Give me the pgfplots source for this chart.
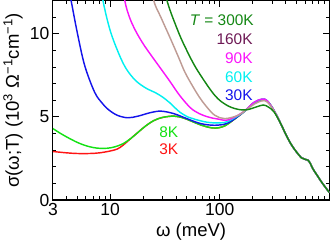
\documentclass[border=0pt]{standalone}
\usepackage{fontspec}
\setmainfont{Liberation Sans}
\usepackage{pgfplots}
\pgfplotsset{compat=1.18}
\definecolor{cRed}{RGB}{255,20,20}
\definecolor{cLime}{RGB}{20,225,20}
\definecolor{cBlue}{RGB}{20,20,235}
\definecolor{cCyan}{RGB}{0,240,240}
\definecolor{cMag}{RGB}{250,20,250}
\definecolor{cBrown}{RGB}{190,155,148}
\definecolor{cDGreen}{RGB}{20,135,20}
\definecolor{cPurp}{RGB}{110,25,85}
\begin{document}
\begin{tikzpicture}
\begin{axis}[
 scale only axis, width=269pt, height=194pt,
 xmode=log, xmin=3, xmax=1000, ymin=0, ymax=12,
 xtick={3,10,100}, xticklabels={3,10,100},
 minor xtick={4,5,6,7,8,9,20,30,40,50,60,70,80,90,200,300,400,500,600,700,800,900},
 ytick={0,5,10}, yticklabels={0,5,10},
 minor ytick={1,2,3,4,6,7,8,9,11},
 tick align=inside, major tick length=6pt, minor tick length=3.5pt,
 axis line style={line width=1.2pt},
 every tick/.style={line width=1pt, black},
 ticklabel style={font=\fontsize{17}{17}\selectfont},
 /pgf/number format/assume math mode=true,
 xlabel={ω (meV)},
 ylabel={σ(ω;T) (10\textsuperscript{3} Ω\textsuperscript{−1}cm\textsuperscript{−1})},
 label style={font=\fontsize{18}{18}\selectfont},
 clip=true,
 every axis plot/.append style={line width=1.4pt, smooth, tension=0.55},
]
% 3K
\addplot[cRed] coordinates {(3,2.92) (4,2.84) (5,2.8) (6.5,2.8) (8,2.84) (10,2.95) (11.6,3.07) (13,3.28) (15.4,3.7) (18,4.08) (21,4.45) (25,4.78) (30,4.97) (38,5.05) (46,4.95) (55,4.75) (67,4.52) (80,4.37) (92,4.33) (105,4.4) (120,4.6) (164,5.28) (204,5.83) (243,6.03) (271,5.96) (313,5.38) (361,4.58) (400,3.95) (449,3.34) (500,2.9) (556,2.54) (600,2.45) (637,2.4) (670,2.2) (710,1.86) (780,1.45) (855,1.05) (1000,0.45)};
% 8K
\addplot[cLime] coordinates {(3,4.3) (3.5,4.02) (4,3.8) (5,3.47) (6,3.27) (7,3.16) (8.1,3.11) (9.5,3.12) (11,3.2) (13,3.38) (15.4,3.7) (18,4.08) (21,4.45) (25,4.78) (30,4.97) (38,5.05) (46,4.95) (55,4.75) (67,4.52) (80,4.37) (92,4.33) (105,4.4) (120,4.6) (164,5.28) (204,5.83) (243,6.03) (271,5.96) (313,5.38) (361,4.58) (400,3.95) (449,3.34) (500,2.9) (556,2.54) (600,2.45) (637,2.4) (670,2.2) (710,1.86) (780,1.45) (855,1.05) (1000,0.45)};
% 30K
\addplot[cBlue] coordinates {(4.0,13.3) (4.4,12) (5,10.1) (5.85,8.1) (7.2,6.5) (8.4,5.85) (9.6,5.45) (11.6,5.1) (14.5,4.95) (18,5.05) (23,5.25) (29,5.35) (38,5.2) (50,4.9) (67,4.6) (90,4.5) (119,4.64) (164,5.28) (204,5.85) (243,6.06) (271,5.97) (313,5.38) (361,4.58) (400,3.95) (449,3.34) (500,2.9) (556,2.54) (600,2.45) (637,2.4) (670,2.2) (710,1.86) (780,1.45) (855,1.05) (1000,0.45)};
% 60K
\addplot[cCyan] coordinates {(7.8,14) (8.6,12) (10,10.2) (12,8.8) (14,7.9) (17,7.2) (21,6.75) (26,6.45) (30,6.2) (35,5.85) (43,5.3) (52,4.98) (60,4.85) (77,4.68) (100,4.64) (120,4.75) (164,5.28) (204,5.86) (243,6.07) (271,5.97) (313,5.38) (361,4.58) (400,3.95) (449,3.34) (500,2.9) (556,2.54) (600,2.45) (637,2.4) (670,2.2) (710,1.86) (780,1.45) (855,1.05) (1000,0.45)};
% 90K
\addplot[cMag] coordinates {(12.3,14) (13.6,12) (15,11) (17,10.2) (20,9.4) (24,8.65) (29,7.9) (35,7.15) (43,6.3) (54,5.55) (65,5.2) (80,4.98) (95,4.88) (119,4.82) (164,5.3) (204,5.87) (243,6.08) (271,5.97) (313,5.38) (361,4.58) (400,3.95) (449,3.34) (500,2.9) (556,2.54) (600,2.45) (637,2.4) (670,2.2) (710,1.86) (780,1.45) (855,1.05) (1000,0.45)};
% 160K
\addplot[cBrown] coordinates {(22,14) (25,12) (29,11.0) (35,9.8) (42,8.6) (48,7.7) (56,6.9) (65,6.2) (75,5.65) (90,5.1) (111,4.9) (147,5.1) (180,5.5) (210,5.8) (243,5.97) (271,5.9) (313,5.36) (361,4.58) (400,3.95) (449,3.34) (500,2.9) (556,2.54) (600,2.45) (637,2.4) (670,2.2) (710,1.86) (780,1.45) (855,1.05) (1000,0.45)};
% 300K
\addplot[cDGreen] coordinates {(29,14) (33,12) (42,10.1) (50,9.0) (60,8.0) (77,6.9) (90,6.3) (102,5.95) (120,5.65) (138,5.5) (160,5.42) (183,5.45) (215,5.6) (250,5.72) (280,5.58) (313,5.3) (361,4.58) (400,3.95) (449,3.34) (500,2.9) (556,2.54) (600,2.45) (637,2.4) (670,2.2) (710,1.86) (780,1.45) (855,1.05) (1000,0.45)};
\begin{scope}[every node/.style={anchor=east, inner sep=0pt, font=\fontsize{15}{15}\selectfont}]
\node[text=cDGreen] at (axis cs:205,10.8) {\textit{T} = 300K};
\node[text=cPurp] at (axis cs:200,9.7) {160K};
\node[text=cMag] at (axis cs:200,8.55) {90K};
\node[text=cCyan] at (axis cs:200,7.4) {60K};
\node[text=cBlue] at (axis cs:200,6.3) {30K};
\node[text=cLime] at (axis cs:42,4.08) {8K};
\node[text=cRed] at (axis cs:42,3.03) {3K};
\end{scope}
\end{axis}
\end{tikzpicture}
\end{document}
